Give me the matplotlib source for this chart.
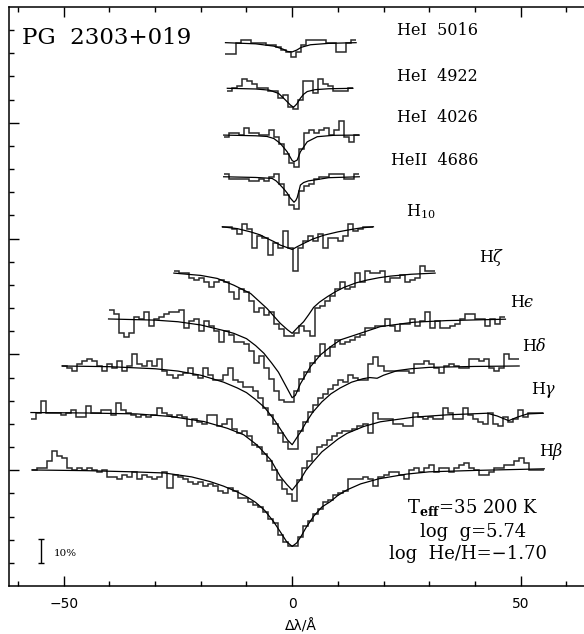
import numpy as np
import matplotlib.pyplot as plt

# bin width of the observed spectra (Angstrom)
binw = 1.1

# continuum levels of each profile (flux units, 0.1 = 10%)
labels = ['HeI 5016', 'HeI 4922', 'HeI 4026', 'HeII 4686', 'H10',
          'Hzeta', 'Heps', 'Hdelta', 'Hgamma', 'Hbeta']
cont = [2.346, 2.149, 1.947, 1.767, 1.551, 1.351, 1.153, 0.950, 0.749, 0.501]
start = [-14.6, -14.2, -15.0, -15.0, -15.3, -25.9, -40.2, -50.4, -57.2, -57.0]

# observed depths below continuum, in percent, one value per bin
obs_he5016 = [5, 5, 0, -1, -1, 0, 0, 0, 1, 1, 2, 3, 4, 6, 4, 1, -1, -1, -1, -1,
              0, 0, 4, 4, 0, -1]
obs_he4922 = [1, 0, -1, -4, -3, -2, 0, 0, 1, 1, 4, 3, 8, 9, 5, -3, -3, 2, -4, -2,
              -1, 1, 1, 1, 0]
obs_he4026 = [1, -1, -1, 0, -3, -1, -1, 0, 0, -2, 1, 4, 8, 12, 14, 6, -1, -2, -1,
              -2, -3, 0, -2, -6, 1, 3, 0]
obs_he4686 = [-1, 1, 1, 1, 1, 2, 2, 1, 2, 0, -1, 3, 8, 12, 14, 6, 4, 3, 1, 0,
              0, -1, -1, -1, 1, 1, -1]
obs_h10 = [0, 0, 1, 3, -1, 1, 9, 4, 5, 12, 7, 9, 2, 9, 19, 9, 6, 4, 6, 3,
           9, 5, 5, 6, 4, -1, 2, 1, 0, 0]
obs_hzeta = [-1, 0, 0, 2, 3, 2, 4, 6, 4, 3, 4, 8, 11, 7, 8, 12, 17, 15, 18, 17,
             22, 24, 27, 27, 26, 23, 25, 27, 15, 14, 12, 10, 7, 4, 7, 6, 0, 4,
             -1, 0, 0, -1, 4, 2, 2, 1, 4, 3, 2, -3, -1, -1]
obs_heps = [-4, -2, 6, 8, 6, -1, 0, -3, 3, 0, -1, -2, -3, -3, -4, 4, 1, 0, 5, 1,
            3, 5, 10, 5, 7, 10, 10, 11, 14, 19, 16, 21, 26, 31, 35, 36, 36, 31,
            26, 23, 19, 16, 11, 16, 12, 9, 11, 10, 9, 8, 7, 4, 4, 3, 3, 0, 3, 5,
            2, 2, 0, 3, 1, -3, 4, 1, 4, 4, 3, 2, 0, -2, -2, 0, 0, 3, 0, 2, -1]
obs_hdelta = [0, 1, 2, -1, -2, -3, -2, 0, 2, -1, 1, -2, 2, 0, -5, -1, 0, -2, 0,
              -3, 2, 4, 5, 4, 3, 1, 4, 5, 1, 4, 6, 6, 4, 1, 6, 7, 9, 9, 11, 14,
              18, 21, 25, 29, 33, 36, 36, 28, 24, 20, 17, 14, 12, 10, 8, 6, 7, 4,
              5, 6, 6, -1, -4, 0, 2, 2, 2, 2, 2, 3, -1, -1, -2, -1, 1, 3, 0, -1,
              0, 1, 1, -3, -3, -2, -3, 1, 2, 1, -5, -3, -3]
obs_hgamma = [3, 0, -5, 0, 0, 0, 1, 0, -1, 2, 2, -3, 0, 0, -1, -1, 1, -4, -1, 0,
              1, 2, 1, 2, 1, -2, 0, 1, 2, 1, 2, 6, 3, 4, 5, 1, 1, 6, 5, 3, 7, 9,
              8, 10, 14, 15, 18, 21, 25, 29, 33, 35, 38, 29, 24, 21, 18, 15, 14,
              12, 10, 9, 8, 8, 7, 6, 5, 9, 0, 3, 3, 3, 5, 5, 6, 6, 0, 2, 3, 2, 3,
              3, -2, 0, 3, 3, -2, 1, 3, 4, 5, 0, 5, 6, 2, 4, 3, -1, 2, 0, 0, 0]
obs_hbeta = [0, -1, -1, -4, -8, -6, -5, -1, 0, -1, 0, -1, 0, 1, 0, 3, 3, 4, 2, 3,
             1, 4, 2, 3, 4, 3, 1, 8, 2, 3, 4, 5, 6, 5, 7, 6, 7, 9, 10, 8, 9, 12,
             12, 14, 15, 16, 18, 21, 23, 28, 31, 33, 33, 29, 24, 22, 19, 17, 14,
             13, 11, 10, 9, 4, 4, 4, 3, 4, 7, 3, 2, 1, 1, 2, 4, 0, -1, 1, -1, -2,
             1, -1, -1, 1, -1, -2, -3, -1, 0, 2, 2, 1, -1, -1, -2, -2, -4, -5,
             -3, 0, 0, 0]

# model fits: wavelength offsets and depths in percent
mx_he5016 = [-14.6, -8, -4, -2, -1, 0, 1, 2, 4, 8, 14]
md_he5016 = [0, 0.5, 1.5, 2.8, 3.8, 4, 3.2, 2, 0.9, 0.3, 0]
mx_he4922 = [-14.2, -8, -5, -3, -2.6, -1.5, -0.4, 0.3, 1, 1.8, 2.5, 3.3, 5, 8, 13.3]
md_he4922 = [0, 0.3, 0.8, 2.2, 2.9, 5, 7.2, 8.2, 6.8, 4.3, 2.6, 1.4, 0.6, 0.2, 0]
mx_he4026 = [-15, -8, -5.5, -4, -2.6, -1.1, 0, 0.4, 1.1, 1.8, 3.3, 5.5, 9.1, 14.7]
md_he4026 = [0, 0.3, 0.6, 1.5, 3.6, 7.2, 11, 11.5, 10.8, 7.2, 2.9, 0.7, 0.1, 0]
mx_he4686 = [-15, -8, -4.4, -3.5, -2.6, -1.8, -1.1, -0.4, 0.4, 0.8, 1.1, 1.5, 1.8,
             2.5, 3.5, 5.5, 8, 14.7]
md_he4686 = [0, 0.3, 0.7, 1.8, 3.6, 5.3, 7, 9.2, 11, 10.2, 9, 6, 3.6, 2.5, 1.8,
             1.2, 0.4, 0]
mx_h10 = [-15.3, -12, -9.1, -7, -5.5, -4, -2.6, -1.2, 0, 1.2, 2.5, 4.5, 7, 10,
          12.8, 15, 17.8]
md_h10 = [0, 0.8, 2.2, 3.5, 5, 6.4, 7.9, 8.9, 9.8, 8.5, 7.2, 5.3, 3.6, 2.2, 1.2,
          0.5, 0]
mx_hzeta = [-25.9, -20, -16.4, -12.8, -9.1, -5.5, -2.6, -1, 0, 1.2, 2.5, 3.6, 4.7,
            6, 7.7, 9.5, 11.3, 14, 16.4, 19, 21.5, 26, 31.3]
md_hzeta = [0, 1, 2.3, 5.2, 8.8, 15.3, 21.7, 24.5, 26, 23.5, 21, 18, 14.8, 12.5,
            10.2, 8, 6.2, 4.2, 3, 2, 1.3, 0.5, 0]
mx_heps = [-40.2, -30, -25, -20, -15, -12.8, -10, -8, -6.2, -4.5, -3, -1.5, 0,
           0.7, 1.8, 3, 4, 6.2, 8.4, 10.6, 14.9, 19.3, 26.6, 33.9, 46.7]
md_heps = [0, 0.5, 1.2, 2.6, 5, 6.2, 8.5, 11.5, 14.8, 19, 23, 28.5, 34, 33, 28,
           24, 20.6, 15.5, 12, 9, 6.2, 3.3, 1.4, 0.7, 0.1]
mx_hdelta = [-50.4, -40, -30, -25, -20, -15, -12, -10, -8, -6, -4, -2, -1, 0, 1,
             2, 3, 4.5, 6.5, 8.5, 10.5, 13, 15.5, 17, 18.6, 20, 21.5, 23, 26, 30,
             40, 49.7]
md_hdelta = [0, 0.3, 1.2, 2.2, 4, 7, 9.5, 11.5, 14.5, 18, 23, 29, 32, 34, 31, 28,
             24.5, 20, 15.5, 12, 9.5, 7, 5.5, 5, 5.3, 4, 3, 2, 1.2, 0.6, 0.2, 0]
mx_hgamma = [-57.2, -45, -34, -26.6, -19.3, -14.2, -10.6, -7.7, -4.7, -2.6, -1.2,
             0, 1, 1.8, 3, 4.7, 6.5, 8.4, 10, 12, 15.7, 19.3, 26.6, 33.9, 42.7,
             44.9, 47.4, 49.3, 51.5, 55]
md_hgamma = [0, 0.2, 0.6, 1.7, 3.9, 6.8, 9.6, 14, 20.4, 27.6, 31, 33.5, 31, 29,
             25, 21, 17, 14, 11.5, 9, 6, 4, 2, 1, 0.3, 1.5, 3.5, 2, 0.6, 0.3]
mx_hbeta = [-57, -45, -35, -28, -22, -18, -15, -12, -10, -8, -6, -4, -2.5, -1.2,
            0, 1, 2, 3, 4.7, 6.5, 8.4, 10, 12, 15, 19, 25, 30, 40, 55.2]
md_hbeta = [0, 0.3, 0.8, 1.3, 3, 5, 7, 9.5, 11.5, 14, 17.5, 22.5, 27, 31, 33,
            31.5, 28.5, 25, 20, 16, 13.6, 11, 8.6, 6, 3.8, 1.8, 0.8, 0.2, -0.5]

observed = [obs_he5016, obs_he4922, obs_he4026, obs_he4686, obs_h10,
            obs_hzeta, obs_heps, obs_hdelta, obs_hgamma, obs_hbeta]
model_x = [mx_he5016, mx_he4922, mx_he4026, mx_he4686, mx_h10,
           mx_hzeta, mx_heps, mx_hdelta, mx_hgamma, mx_hbeta]
model_d = [md_he5016, md_he4922, md_he4026, md_he4686, md_h10,
           md_hzeta, md_heps, md_hdelta, md_hgamma, md_hbeta]

serif = 'DejaVu Serif'
plt.rcParams['mathtext.fontset'] = 'dejavuserif'

fig = plt.figure(figsize=(5.84, 6.34), dpi=100)
ax = fig.add_axes([9 / 584, 48 / 634, 584.6 / 584, 579 / 634])

for c, x0, ob, mx, md in zip(cont, start, observed, model_x, model_d):
    ob = np.array(ob, dtype=float)
    edges = x0 + binw * np.arange(len(ob) + 1)
    ax.stairs(c - ob / 100, edges, baseline=None, color='#2a2a2a', lw=1.1)
    ax.plot(mx, c - np.array(md) / 100, color='black', lw=0.9)

ax.set_xlim(-62, 66)
ax.set_ylim(0, 2.5)

ax.text(-59.1, 2.366, 'PG  2303+019', fontsize=16.5, family=serif, va='center')

# line labels
lab_pos = [(23.0, 2.40), (23.0, 2.198), (23.0, 2.025), (21.7, 1.839),
           (24.9, 1.615), (40.8, 1.42), (47.6, 1.226), (50.4, 1.032),
           (52.2, 0.846), (54.0, 0.579)]
lab_text = ['HeI  5016', 'HeI  4922', 'HeI  4026', 'HeII  4686', r'H$_{10}$',
            r'H$\zeta$', 'H$\u03f5$', r'H$\delta$', r'H$\gamma$', r'H$\beta$']
for (lx, ly), t in zip(lab_pos, lab_text):
    ax.text(lx, ly, t, fontsize=11.5, family=serif, va='center')

# fit parameters
ax.text(39.5, 0.3165, r'T$_{\mathbf{eff}}$=35 200 K', fontsize=13, family=serif,
        ha='center', va='baseline')
ax.text(39.5, 0.213, 'log  g=5.74', fontsize=13, family=serif, ha='center',
        va='baseline')
ax.text(38.5, 0.115, 'log  He/H=\u22121.70', fontsize=13, family=serif,
        ha='center', va='baseline')

# 10% scale bar
ax.errorbar([-54.9], [0.151], yerr=[[0.052], [0.052]], color='black', lw=1,
            capsize=2, capthick=1)
ax.text(-52.3, 0.142, '10%', fontsize=7.5, family=serif, va='center')

# axes styling
ax.set_xticks([-50, 0, 50])
ax.set_xticklabels(['\u221250', '0', '50'])
ax.set_xticks(np.arange(-60, 61, 10), minor=True)
ax.set_yticks([0.5, 1.0, 1.5, 2.0])
ax.set_yticks(np.arange(0.1, 2.5, 0.1), minor=True)
ax.set_yticklabels([])
ax.tick_params(which='both', direction='in', top=True, right=False,
               labelsize=10, width=1)
ax.tick_params(which='major', length=7)
ax.tick_params(which='minor', length=3.5)
ax.tick_params(axis='x', pad=8)
ax.spines['right'].set_visible(False)
for s in ax.spines.values():
    s.set_linewidth(1.1)
ax.set_xlabel('\u0394\u03bb/\u00c5', fontsize=10, labelpad=6)

fig.savefig('out.png', dpi=100)
